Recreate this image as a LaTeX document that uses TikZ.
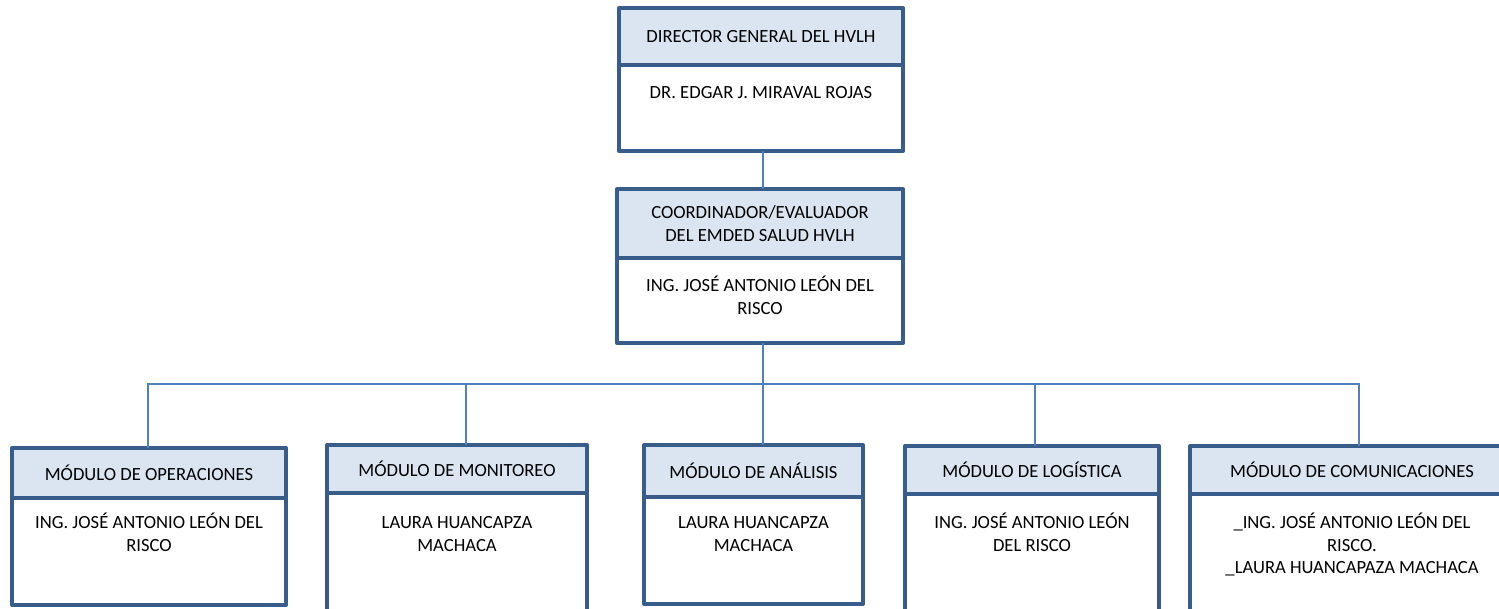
\documentclass[tikz,border=0pt]{standalone}
\usepackage{fontspec}
\setmainfont{Carlito}
\definecolor{bord}{RGB}{56,93,138}
\definecolor{hfill}{RGB}{219,229,241}
\definecolor{connc}{RGB}{79,129,189}
\newcommand\orgfont{\fontsize{18.6}{22.8}\selectfont}
\newcommand\firstln{\rule{0pt}{16pt}}
\begin{document}
\begin{tikzpicture}[x=1pt,y={(0pt,-1pt)},
  hdr/.style={draw=bord, line width=4pt, fill=hfill, inner sep=0pt, outer sep=0pt,
    anchor=north west, align=center, font=\orgfont, line join=round},
  bdy/.style={draw=bord, line width=4pt, fill=white, inner sep=0pt, outer sep=0pt,
    anchor=north west, line join=round},
  btxt/.style={anchor=north, inner sep=0pt, align=center, font=\orgfont},
  cn/.style={draw=connc, line width=1.6pt}]
\useasboundingbox (0,0) rectangle (1499,608);
\clip (0,0) rectangle (1499,608);
\fill[white] (0,0) rectangle (1499,608);

% top box
\node[bdy, minimum width=284pt, minimum height=86pt] (b0) at (619,65) {};
\node[hdr, minimum width=284pt, minimum height=57pt] (h0) at (619,8) {DIRECTOR GENERAL DEL HVLH};
\node[btxt] (t0) at (b0.north |- 0,82) {\firstln DR. EDGAR J. MIRAVAL ROJAS};

% second box
\node[bdy, minimum width=286pt, minimum height=85pt] (b1) at (617,258) {};
\node[hdr, minimum width=286pt, minimum height=69pt] (h1) at (617,189) {COORDINADOR/EVALUADOR\\DEL EMDED SALUD HVLH};
\node[btxt] (t1) at (b1.north |- 0,275) {\firstln ING. JOSÉ ANTONIO LEÓN DEL\\RISCO};

% modules
\node[bdy, minimum width=274pt, minimum height=107pt] (bA) at (12,498) {};
\node[hdr, minimum width=274pt, minimum height=50pt] (hA) at (12,448) {MÓDULO DE OPERACIONES};
\node[btxt] (tA) at (bA.north |- 0,512) {\firstln ING. JOSÉ ANTONIO LEÓN DEL\\RISCO};

\node[bdy, minimum width=260pt, minimum height=118pt] (bB) at (327,493) {};
\node[hdr, minimum width=260pt, minimum height=48pt] (hB) at (327,445) {MÓDULO DE MONITOREO};
\node[btxt] (tB) at (bB.north |- 0,512) {\firstln LAURA HUANCAPZA\\MACHACA};

\node[bdy, minimum width=219pt, minimum height=107pt] (bC) at (644,497) {};
\node[hdr, minimum width=219pt, minimum height=52pt] (hC) at (644,445) {MÓDULO DE ANÁLISIS};
\node[btxt] (tC) at (bC.north |- 0,512) {\firstln LAURA HUANCAPZA\\MACHACA};

\node[bdy, minimum width=254pt, minimum height=117pt] (bD) at (905,494) {};
\node[hdr, minimum width=254pt, minimum height=48pt] (hD) at (905,446) {MÓDULO DE LOGÍSTICA};
\node[btxt] (tD) at (bD.north |- 0,512) {\firstln ING. JOSÉ ANTONIO LEÓN\\DEL RISCO};

\node[bdy, minimum width=324pt, minimum height=117pt] (bE) at (1190,494) {};
\node[hdr, minimum width=324pt, minimum height=48pt] (hE) at (1190,446) {MÓDULO DE COMUNICACIONES};
\node[btxt] (tE) at (bE.north |- 0,512) {\firstln \_ING. JOSÉ ANTONIO LEÓN DEL\\RISCO.\\\_LAURA HUANCAPAZA MACHACA};

% connectors
\coordinate (bus) at (763,384);
\draw[cn] ([xshift=2pt]b0.south) -- ([xshift=2pt]b0.south |- h1.north);
\draw[cn] ([xshift=3pt]b1.south) -- (bus);
\draw[cn] ([xshift=-1pt]hA.north) |- (bus);
\draw[cn] ([xshift=9pt]hB.north) |- (bus);
\draw[cn] ([xshift=9.5pt]hC.north) -- (bus);
\draw[cn] ([xshift=3pt]hD.north) |- (bus);
\draw[cn] ([xshift=7pt]hE.north) |- (bus);
\end{tikzpicture}
\end{document}
